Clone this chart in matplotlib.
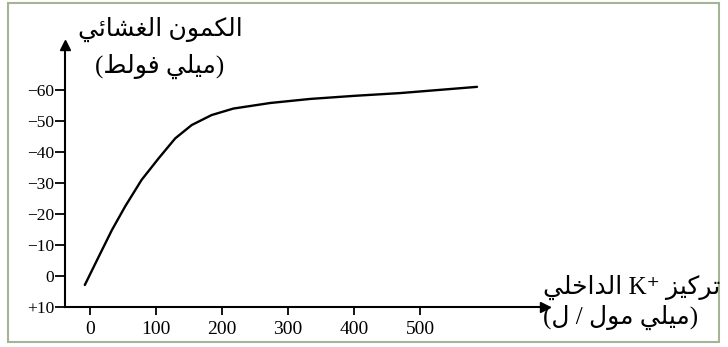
import matplotlib
matplotlib.use("Agg")
import matplotlib.pyplot as plt
from matplotlib.patches import Rectangle

plt.rcParams['font.family'] = ['Liberation Serif', 'DejaVu Sans']

# data: internal K+ concentration (mmol/L) vs membrane potential (mV)
k_conc = [-8, 13, 33, 53, 78, 104, 129, 154, 184, 217, 273, 333, 400, 470, 586]
potential = [2.9, -6.2, -14.8, -22.4, -31.0, -38.0, -44.4, -48.7, -51.9,
             -54.0, -55.8, -57.1, -58.1, -59.0, -61.0]

x_ticks = [0, 100, 200, 300, 400, 500]
y_ticks = [10, 0, -10, -20, -30, -40, -50, -60]
y_tick_labels = ['+10', '0', '\u221210', '\u221220', '\u221230', '\u221240', '\u221250', '\u221260']

y_title = 'الكمون الغشائي'
y_unit = 'ميلي فولط'
x_title_a = 'تركيز'
x_title_b = 'الداخلي'
x_unit = 'ميلي مول'

# minimal arabic shaping: (isolated, final, initial, medial), None = does not join forward
FORMS = {
    'ا': (0xFE8D, 0xFE8E, None, None),
    'د': (0xFEA9, 0xFEAA, None, None),
    'ر': (0xFEAD, 0xFEAE, None, None),
    'ز': (0xFEAF, 0xFEB0, None, None),
    'و': (0xFEED, 0xFEEE, None, None),
    'ل': (0xFEDD, 0xFEDE, 0xFEDF, 0xFEE0),
    'ك': (0xFED9, 0xFEDA, 0xFEDB, 0xFEDC),
    'م': (0xFEE1, 0xFEE2, 0xFEE3, 0xFEE4),
    'ن': (0xFEE5, 0xFEE6, 0xFEE7, 0xFEE8),
    'غ': (0xFECD, 0xFECE, 0xFECF, 0xFED0),
    'ش': (0xFEB5, 0xFEB6, 0xFEB7, 0xFEB8),
    'ئ': (0xFE89, 0xFE8A, 0xFE8B, 0xFE8C),
    'ي': (0xFEF1, 0xFEF2, 0xFEF3, 0xFEF4),
    'ف': (0xFED1, 0xFED2, 0xFED3, 0xFED4),
    'ط': (0xFEC1, 0xFEC2, 0xFEC3, 0xFEC4),
    'ت': (0xFE95, 0xFE96, 0xFE97, 0xFE98),
    'خ': (0xFEA5, 0xFEA6, 0xFEA7, 0xFEA8),
}


def shape(text):
    out = []
    for i, ch in enumerate(text):
        f = FORMS.get(ch)
        if f is None:
            out.append(ch)
            continue
        prev = text[i - 1] if i > 0 else ''
        nxt = text[i + 1] if i < len(text) - 1 else ''
        jp = prev in FORMS and FORMS[prev][2] is not None
        jn = nxt in FORMS and f[2] is not None
        if jp and jn:
            c = f[3]
        elif jp:
            c = f[1]
        elif jn:
            c = f[2]
        else:
            c = f[0]
        out.append(chr(c))
    return ''.join(reversed(out))


W, H = 728, 347
fig = plt.figure(figsize=(W / 100, H / 100), dpi=100)
ax = fig.add_axes([65 / W, 1 - 307 / H, (545 - 65) / W, (307 - 45) / H])

ax.plot(k_conc, potential, color='black', lw=1.7, solid_capstyle='round',
        solid_joinstyle='round')

ax.set_xlim(-38, 689)
ax.set_ylim(10, -74.5)
ax.set_xticks(x_ticks)
ax.set_yticks(y_ticks)
ax.set_yticklabels(y_tick_labels)
ax.tick_params(axis='x', direction='out', length=6, width=1.3, pad=4, labelsize=14)
ax.tick_params(axis='y', direction='out', length=7, width=1.3, pad=1, labelsize=12.5)

for s in ['top', 'right']:
    ax.spines[s].set_visible(False)
for s in ['left', 'bottom']:
    ax.spines[s].set_linewidth(1.5)
ax.patch.set_visible(False)

# arrow heads
ax.plot(1, 0, marker='>', color='black', ms=7, transform=ax.transAxes, clip_on=False)
ax.plot(0, 1, marker='^', color='black', ms=7, transform=ax.transAxes, clip_on=False)

# frame around the figure
fig.patches.append(Rectangle((8 / W, 1 - 342 / H), (719 - 8) / W, (342 - 3) / H,
                             transform=fig.transFigure, fill=False,
                             edgecolor='#a3b596', lw=1.5))

fs = 18
fig.text(160 / W, 1 - 29 / H, shape(y_title), ha='center', va='center', fontsize=fs)
fig.text(160 / W, 1 - 66 / H, '(' + shape(y_unit) + ')', ha='center', va='center', fontsize=fs)
fig.text(720 / W, 1 - 287 / H, shape(x_title_b) + ' K\u207a ' + shape(x_title_a),
         ha='right', va='center', fontsize=fs)
fig.text(698 / W, 1 - 317 / H, '(' + shape('ل') + ' / ' + shape(x_unit) + ')',
         ha='right', va='center', fontsize=fs)

fig.savefig('out.png', dpi=100)
